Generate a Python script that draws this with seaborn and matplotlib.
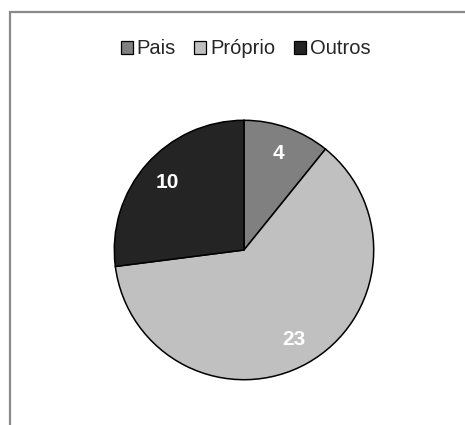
import matplotlib
matplotlib.use("Agg")
import matplotlib.pyplot as plt
import seaborn as sns
from matplotlib.patches import Rectangle, Patch

categories = ["Pais", "Próprio", "Outros"]
values = [4, 23, 10]
colors = ["#808080", "#C0C0C0", "#242424"]

sns.set_theme(style="white")
plt.rcParams['font.family'] = ['Liberation Sans', 'DejaVu Sans']

W, H = 465, 425
fig = plt.figure(figsize=(W / 100, H / 100), dpi=100)
fig.patch.set_facecolor("white")

# outer frame (extends past right/bottom edges)
fig.patches.append(Rectangle((10 / W, -0.05), 1.2, 1 - 12 / H + 0.05,
                             transform=fig.transFigure, fill=False,
                             edgecolor="#898989", linewidth=1.6, zorder=0))

cx, cy, r = 244, 250, 131
ax = fig.add_axes([(cx - r) / W, (H - cy - r) / H, 2 * r / W, 2 * r / H])
wedges, texts, autotexts = ax.pie(
    values, colors=colors, startangle=90, counterclock=False,
    radius=1, autopct=lambda p: f"{round(p * sum(values) / 100):d}",
    pctdistance=0.79,
    wedgeprops=dict(edgecolor="black", linewidth=1.1),
    textprops=dict(color="white", fontsize=15, fontweight="bold"))
ax.set_xlim(-1.01, 1.01)
ax.set_ylim(-1.01, 1.01)
ax.axis("off")

handles = [Patch(facecolor=c, edgecolor="black", linewidth=0.9) for c in colors]
fig.legend(handles, categories, loc="center", bbox_to_anchor=(245.5 / W, 1 - 49 / H),
           ncol=3, frameon=False, fontsize=14.5, handlelength=0.6, handleheight=0.6,
           handletextpad=0.2, columnspacing=0.9, borderaxespad=0)

fig.savefig("out.png", dpi=100, facecolor="white")
